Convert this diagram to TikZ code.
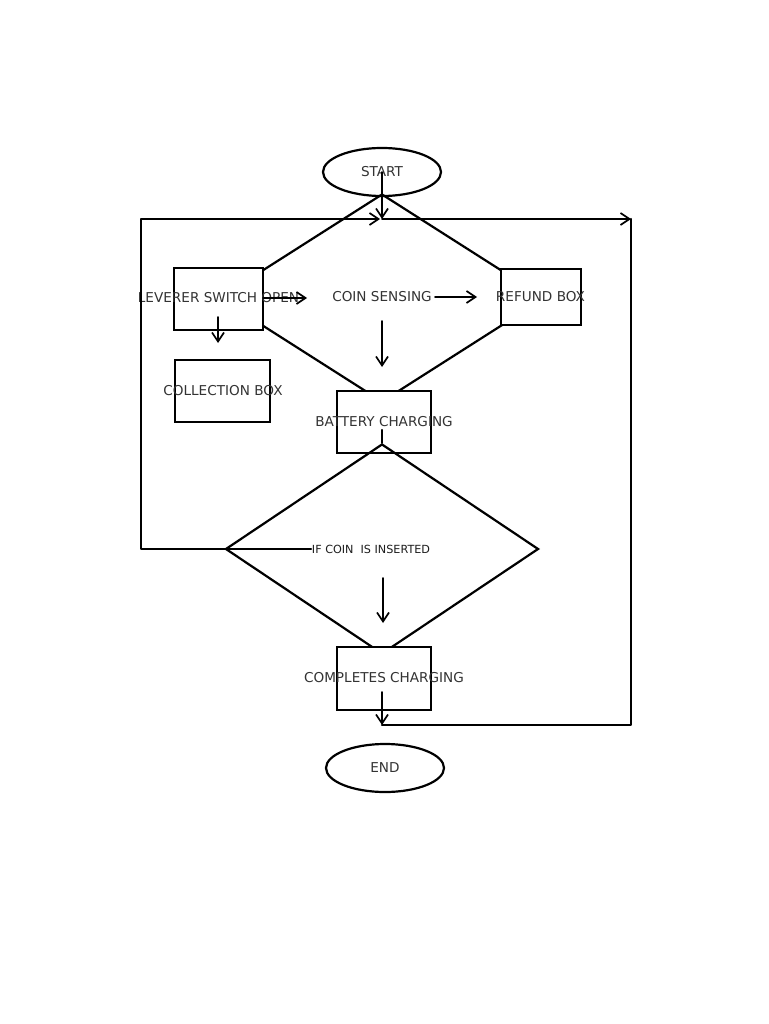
\documentclass[tikz,border=0pt]{standalone}
\usepackage{fontspec}
\setmainfont{DejaVu Sans}
\usetikzlibrary{shapes.geometric,arrows.meta}
\definecolor{txtgray}{RGB}{51,51,51}
\definecolor{txtdark}{RGB}{30,30,30}
\tikzset{
  ln/.style={line width=2.2pt, line cap=round, line join=round},
  arr/.style={ln, line width=1.9pt, -{Straight Barb[length=9pt,width=12pt,line width=1.7pt]}},
  oval/.style={ellipse, draw, line width=2.2pt, inner sep=0pt, minimum width=118pt, minimum height=48pt},
  dia/.style={diamond, draw, line width=2.2pt, inner sep=0pt},
  boxx/.style={rectangle, draw, fill=white, line width=2.2pt, inner sep=0pt},
  txt/.style={text=txtgray, font=\fontsize{13.6}{16}\selectfont, inner sep=1pt},
  small/.style={text=txtdark, font=\fontsize{11.2}{13}\selectfont, inner sep=1pt},
}
\begin{document}
\begin{tikzpicture}[x=1pt,y=-1pt]
\useasboundingbox (0,0) rectangle (768,1024);
\fill[white] (0,0) rectangle (768,1024);

% coordinates of loop corners
\coordinate (tl) at (141,219);
\coordinate (tm) at (382,219);
\coordinate (tr) at (631,219);
\coordinate (bm) at (382,725);

% start
\node[oval] (start) at (382,172) {};
\node[txt] (starttxt) at (382,172) {START};

% diamond 1
\node[dia, minimum width=326pt, minimum height=208pt] (d1) at (382,298) {};

% boxes over diamond 1
\node[boxx, minimum width=89pt, minimum height=62pt] (lev) at (218.5,299) {};
\node[boxx, minimum width=80pt, minimum height=56pt] (ref) at (541,297) {};
\node[boxx, minimum width=94pt, minimum height=62pt] (bat) at (384,422) {};
\node[boxx, minimum width=95pt, minimum height=62pt] (col) at (222.5,391) {};

% diamond 2
\node[dia, minimum width=313pt, minimum height=210pt] (d2) at (382,549) {};
\node[boxx, minimum width=94pt, minimum height=63pt] (done) at (384,678.5) {};

% end
\node[oval] (end) at (385,768) {};

% texts
\node[txt] (levtxt) at (218.5,298) {LEVERER SWITCH OPEN};
\node[txt] (coin) at (382,297) {COIN SENSING};
\node[txt] (reftxt) at (540.5,297) {REFUND BOX};
\node[txt] (coltxt) at (223,391) {COLLECTION BOX};
\node[txt] (battxt) at (384,422) {BATTERY CHARGING};
\node[small] (ifcoin) at (371,549) {IF COIN\ \ IS INSERTED};
\node[txt] (donetxt) at (384,678) {COMPLETES CHARGING};
\node[txt] (endtxt) at (385,768) {END};

% connector helper coordinates
\coordinate (levA) at (263,298);
\coordinate (levB) at (307,298);
\coordinate (levD1) at (218,317);
\coordinate (levD2) at (218,343);
\coordinate (coinR1) at (435,297);
\coordinate (coinR2) at (477,297);
\coordinate (coinD1) at (382,321);
\coordinate (coinD2) at (382,367);
\coordinate (batD) at (382,430);
\coordinate (ifD1) at (383,578);
\coordinate (ifD2) at (383,623);
\coordinate (doneD) at (382,692);
\coordinate (ifL) at (311,549);

% connectors
\draw[arr] (start.center) -- (tm);
\draw[arr] (d2.west) -| (tl) -- (380,219);
\draw[ln] (d2.west) -- (ifL);
\draw[arr] (tm) -- (tr);
\draw[ln] (tr) |- (bm);
\draw[arr] (doneD) -- (bm);
\draw[arr] (levA) -- (levB);
\draw[arr] (levD1) -- (levD2);
\draw[arr] (coinR1) -- (coinR2);
\draw[arr] (coinD1) -- (coinD2);
\draw[ln] (batD) -- (d2.north);
\draw[arr] (ifD1) -- (ifD2);
\end{tikzpicture}
\end{document}
